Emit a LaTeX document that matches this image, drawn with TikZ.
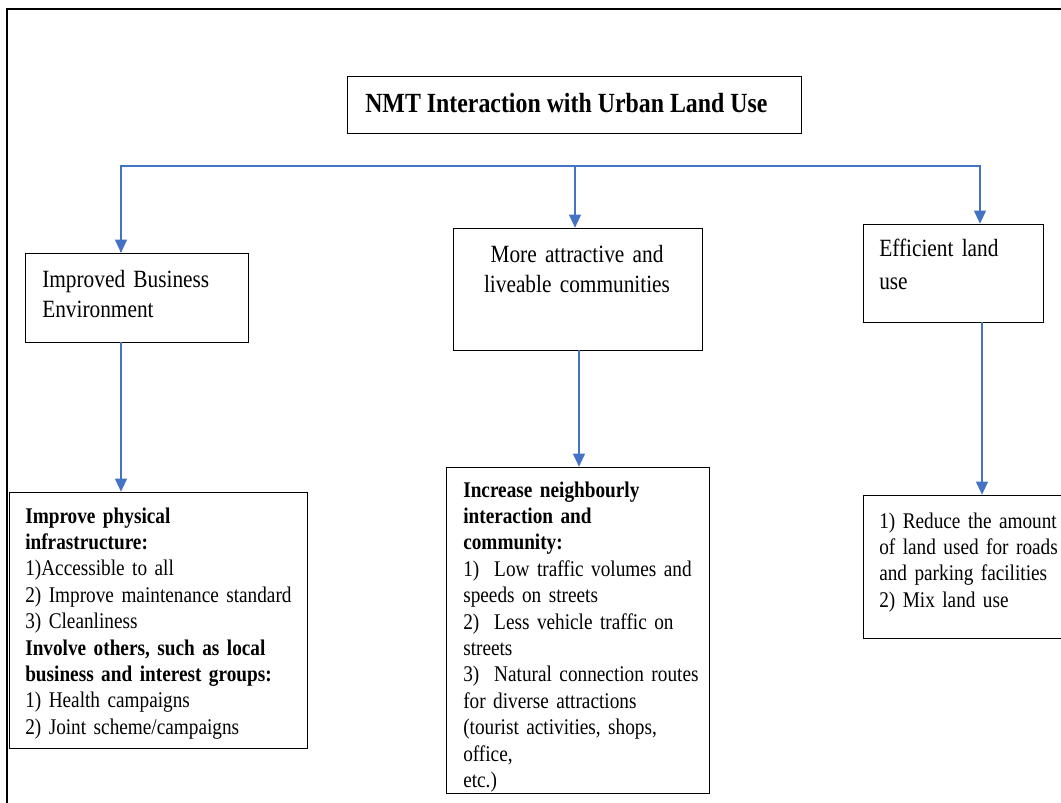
\documentclass[tikz,border=0pt]{standalone}
\usepackage{fontspec}
\setmainfont{Liberation Serif}[FakeStretch=0.86]
\usetikzlibrary{arrows.meta}
\definecolor{lineblue}{HTML}{4472C4}
\begin{document}
\begin{tikzpicture}[x=0.75pt,y=-0.75pt,
  box/.style={draw=black, line width=1.1pt, inner sep=0pt, anchor=north west},
  conn/.style={draw=lineblue, line width=2.2pt},
  arr/.style={conn, -{Triangle[length=10pt,width=8.5pt]}},
  frame/.style={draw=black, line width=2.2pt},
  bodytxt/.style={font=\fontsize{16.8pt}{19.8pt}\selectfont, inner sep=0pt, align=left, anchor=base west},
  midtxt/.style={font=\fontsize{18.6pt}{22.9pt}\selectfont, inner sep=0pt},
  titletxt/.style={font=\fontsize{20.8pt}{24pt}\selectfont\bfseries, inner sep=0pt, anchor=base west}
]
\useasboundingbox (0,0) rectangle (1061,803);
\fill[white] (0,0) rectangle (1061,803);

% outer frame (cut by the page edges)
\draw[frame] (7,806) -- (7,9) -- (1064,9);

% boxes
\node[box, minimum width=340.5pt, minimum height=42.75pt] (title) at (347,76) {};
\node[box, minimum width=167.25pt, minimum height=66.75pt] (ibe) at (25,253) {};
\node[box, minimum width=186.75pt, minimum height=91.5pt] (mac) at (453,228) {};
\node[box, minimum width=135pt, minimum height=73.5pt] (elu) at (863,224) {};
\node[box, minimum width=223.5pt, minimum height=192pt] (ipi) at (9,492) {};
\node[box, minimum width=197.25pt, minimum height=244.5pt] (inc) at (446,467) {};
\node[box, minimum width=150pt, minimum height=107.25pt] (red) at (863,495) {};

% texts
\node[titletxt] (titlet) at (365,112) {NMT Interaction with Urban Land Use};
\node[midtxt, text width=200pt, align=left, anchor=base west] (ibet) at (42,287)
  {Improved Business\\Environment};
\node[midtxt, text width=220pt, align=center, anchor=base] (mact) at (577,262)
  {More attractive and\\liveable communities};
\node[midtxt, text width=150pt, align=left, anchor=base west] (elut) at (879,256)
  {Efficient land\\[2pt]use};
\node[bodytxt, text width=260pt] (ipit) at (25,523)
  {\textbf{Improve physical}\\
   \textbf{infrastructure:}\\
   1)Accessible to all\\
   2) Improve maintenance standard\\
   3) Cleanliness\\
   \textbf{Involve others, such as local}\\
   \textbf{business and interest groups:}\\
   1) Health campaigns\\
   2) Joint scheme/campaigns};
\node[bodytxt, text width=230pt] (inct) at (463,497)
  {\textbf{Increase neighbourly}\\
   \textbf{interaction and}\\
   \textbf{community:}\\
   1)\ \ Low traffic volumes and\\
   speeds on streets\\
   2)\ \ Less vehicle traffic on\\
   streets\\
   3)\ \ Natural connection routes\\
   for diverse attractions\\
   (tourist activities, shops,\\
   office,\\
   etc.)};
\node[bodytxt, text width=200pt] (redt) at (879,528)
  {1) Reduce the amount\\
   of land used for roads\\
   and parking facilities\\
   2) Mix land use};

% connectors
\coordinate (j1) at (121,166);
\coordinate (j2) at (575,166);
\coordinate (j3) at (980,166);
\draw[conn, line join=miter] (j1 |- ibe.north) ++(0,-1) -- (j1) -- (j3) -- ++(0,1);
\draw[arr] (j1) -- (j1 |- ibe.north);
\draw[arr] (j2) -- (j2 |- mac.north);
\draw[arr] (j3) -- (j3 |- elu.north);

\coordinate (k1) at (121,342);
\coordinate (k2) at (579,350);
\coordinate (k3) at (982,322);
\draw[arr] (k1) -- (k1 |- ipi.north);
\draw[arr] (k2) -- (k2 |- inc.north);
\draw[arr] (k3) -- (k3 |- red.north);
\end{tikzpicture}
\end{document}
